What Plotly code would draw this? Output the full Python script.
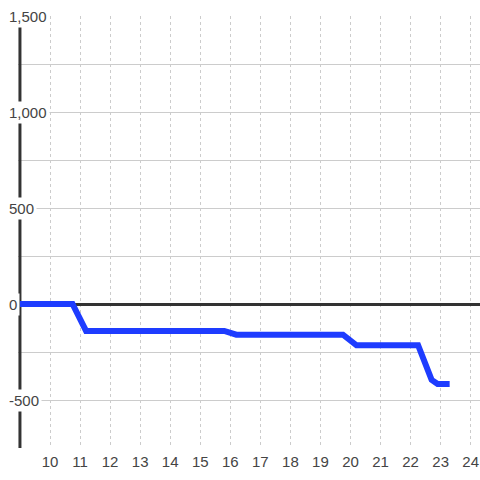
import plotly.graph_objects as go

# series
x_vals = [9, 10.75, 11.2, 15.8, 16.2, 19.75, 20.2, 22.25, 22.7, 22.9, 23.3]
y_vals = [0, 0, -140, -140, -160, -160, -215, -215, -395, -417, -417]

x_ticks = list(range(10, 25))
y_label_vals = [1500, 1000, 500, 0, -500]
y_label_text = ["1,500", "1,000", "500", "0", "-500"]

BG = "#ffffff"
DARK = "#333333"
GRID = "#cccccc"
FONT = dict(family="Liberation Sans, Arial, sans-serif", size=15, color="#444444")

fig = go.Figure()

fig.add_trace(go.Scatter(
    x=x_vals,
    y=y_vals,
    mode="lines",
    line=dict(color="#1e3cff", width=6),
    hoverinfo="skip",
    showlegend=False,
))

# y axis drawn as a line at x=9, a little inside the range so it isn't clipped
fig.add_shape(
    type="line", xref="x", yref="y",
    x0=9, x1=9, y0=-750, y1=1500,
    line=dict(color=DARK, width=3),
    layer="between",
)

# y labels sit on top of the axis line with a background patch
for v, t in zip(y_label_vals, y_label_text):
    fig.add_annotation(
        x=9, y=v, xref="x", yref="y",
        text=t, showarrow=False,
        xanchor="left", yanchor="middle",
        xshift=-14,
        bgcolor=BG, borderpad=2,
        font=FONT,
    )

fig.update_xaxes(
    range=[8.935, 24.31],
    tickvals=x_ticks,
    showgrid=True, gridcolor=GRID, gridwidth=1, griddash="dot",
    zeroline=False, showline=False, ticks="",
    tickfont=FONT,
    ticklabelstandoff=3,
)
fig.update_yaxes(
    range=[-750, 1500],
    dtick=250, tick0=0,
    showgrid=True, gridcolor=GRID, gridwidth=1,
    zeroline=True, zerolinecolor=DARK, zerolinewidth=3,
    showline=False, ticks="", showticklabels=False,
)

fig.update_layout(
    width=480, height=480,
    margin=dict(l=18, r=0, t=16, b=32),
    paper_bgcolor=BG, plot_bgcolor=BG,
    showlegend=False,
)

# page has a default body margin; drop it so the figure sits at the corner
fig.write_html(
    "out.html",
    config={"displayModeBar": False},
    post_script="document.body.style.margin='0';",
)
